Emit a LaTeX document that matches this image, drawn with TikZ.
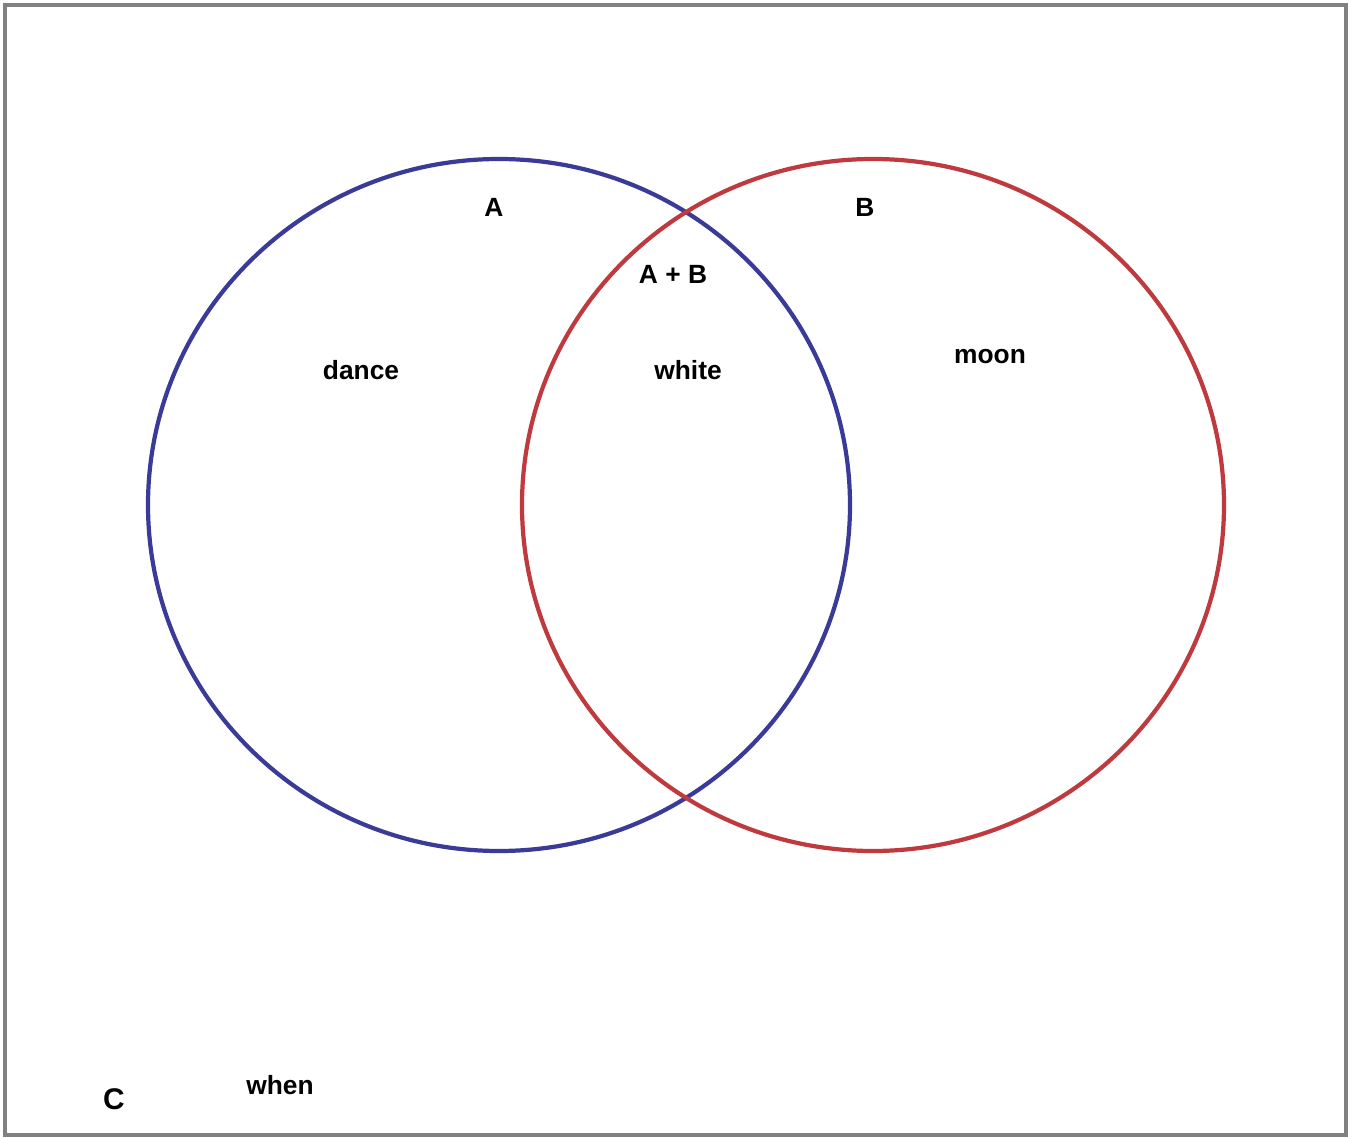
\documentclass[tikz,border=0pt]{standalone}
\usepackage{fontspec}
\setmainfont{Liberation Sans}
\usepackage{xcolor}
\usepackage{tikz}
\usetikzlibrary{positioning}
\definecolor{SetBlue}{RGB}{58,58,152}
\definecolor{SetRed}{RGB}{190,58,62}
\definecolor{FrameGray}{RGB}{128,128,128}

\begin{document}
\begin{tikzpicture}[x=0.02cm,y=-0.02cm,font=\fontsize{15}{18}\selectfont\bfseries]
  \useasboundingbox (0,0) rectangle (1352,1138);
  \draw[FrameGray,line width=2.3pt] (5,5) rectangle (1346,1135);
  % the two sets
  \draw[SetBlue,line width=2.4pt] (499,505) ellipse [x radius=351,y radius=346];
  \draw[SetRed,line width=2.4pt] (873,505) ellipse [x radius=351,y radius=346];
  \node (labA) at (494,207) {A};
  \node (labB) at (865,207) {B};
  \node (labAB) at (673,274) {A + B};
  \node (dance) at (361,370) {dance};
  \node (white) at (688,370) {white};
  \node (moon) at (990,357) {moon};
  \node (when) at (280,1085) {when};
  \node[font=\fontsize{17}{20}\selectfont\bfseries] (labC) at (114,1099) {C};
\end{tikzpicture}
\end{document}
